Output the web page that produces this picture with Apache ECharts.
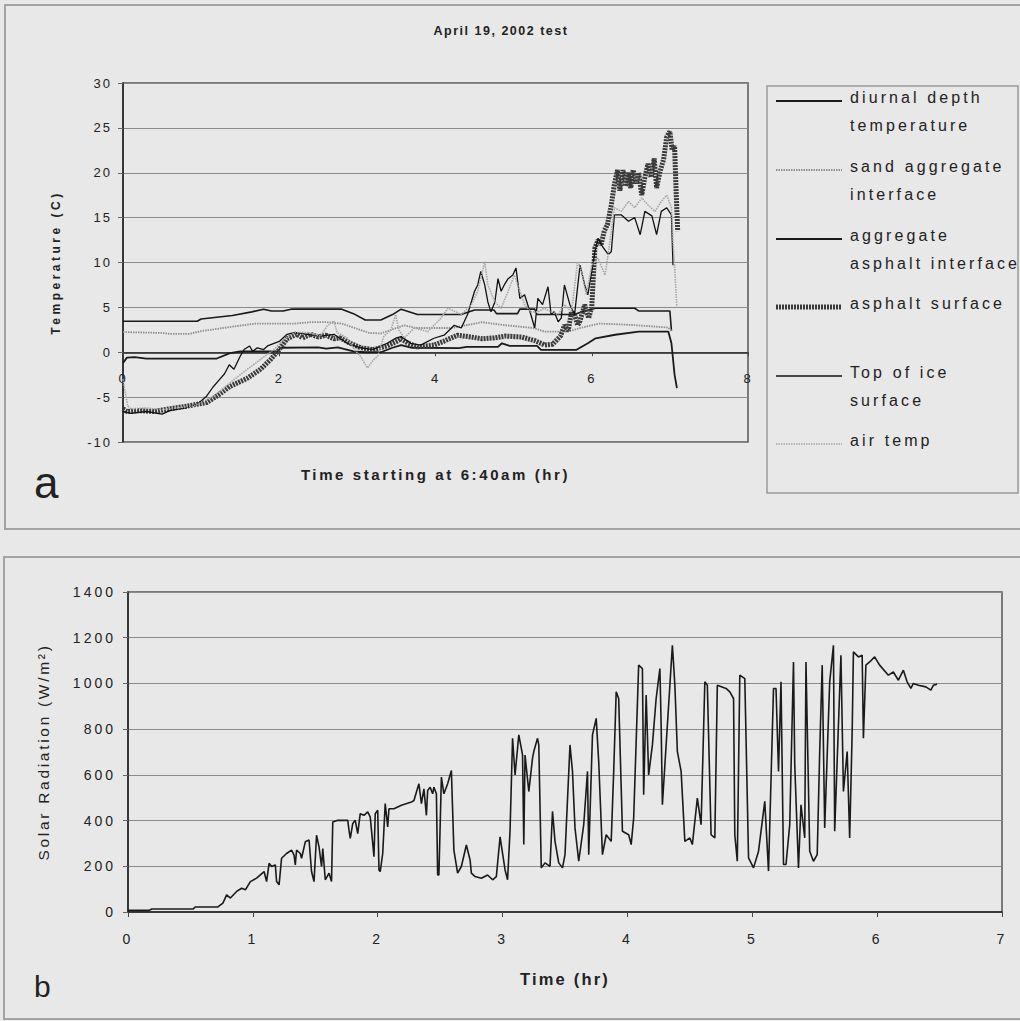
<!DOCTYPE html>
<html>
<head>
<meta charset="utf-8">
<title>April 19, 2002 test</title>
<script src="https://cdn.jsdelivr.net/npm/echarts@6/dist/echarts.min.js"></script>
<style>
  html, body { margin: 0; padding: 0; background: #e8e8e8; }
  #chart { width: 1020px; height: 1021px; }
  /* zrender has no letter spacing and the scanned figure is spaced out, so widen svg text by size */
  #chart svg text { letter-spacing: 2px; }
  #chart text[style*="12.5px"] { letter-spacing: 1.5px; }
  #chart text[style*="13px"] { letter-spacing: 2px; }
  #chart text[style*="12px"] { letter-spacing: 3.5px; }
  #chart text[style*="15px"] { letter-spacing: 2.6px; }
  #chart text[style*="16px"] { letter-spacing: 3.1px; }
  #chart text[style*="14px"] { letter-spacing: 3px; }
  #chart text[style*="15.5px"] { letter-spacing: 2.7px; }
  #chart text[style*="16.5px"] { letter-spacing: 2.2px; }
  #chart text[style*="44px"], #chart text[style*="30px"] { letter-spacing: 0; }
</style>
</head>
<body>
<div id="chart"></div>
<script>
// panel a: temperatures (hours since 6:40am, deg C)
const depthTime = [0, 0.95, 1.0, 1.4, 1.65, 1.8, 1.9, 2.05, 2.15, 2.8, 2.95, 3.1, 3.3, 3.45, 3.56, 3.7, 3.77, 4.33, 4.5, 4.75, 4.78, 5.05, 5.08, 5.27, 5.3, 5.78, 5.9, 6.05, 6.55, 6.6, 7.0, 7.02]
const depthTemp = [3.45, 3.45, 3.7, 4.1, 4.5, 4.8, 4.6, 4.6, 4.8, 4.8, 4.3, 3.6, 3.6, 4.2, 4.8, 4.4, 4.2, 4.2, 4.7, 4.7, 4.3, 4.3, 4.8, 4.8, 4.2, 4.2, 4.6, 4.9, 4.9, 4.6, 4.6, 2.4]

const sandTime = [0, 0.5, 0.6, 0.85, 1.0, 1.4, 1.7, 2.2, 2.4, 2.6, 2.8, 3.0, 3.15, 3.3, 3.5, 3.6, 3.75, 4.2, 4.6, 4.85, 5.25, 5.4, 5.7, 5.85, 6.1, 6.5, 6.98, 7.02]
const sandTemp = [2.25, 2.15, 2.05, 2.05, 2.35, 2.85, 3.2, 3.2, 3.35, 3.35, 3.2, 2.6, 2.15, 2.1, 2.7, 3.0, 2.7, 2.7, 3.35, 3.05, 2.7, 2.3, 2.3, 2.7, 3.2, 3.05, 2.75, 2.4]

const aggTime = [0, 0.05, 0.15, 0.3, 1.2, 1.37, 1.5, 1.98, 2.02, 2.5, 2.6, 2.75, 2.95, 3.1, 3.3, 3.45, 3.56, 3.7, 4.3, 4.4, 4.8, 4.85, 4.95, 5.3, 5.35, 5.8, 5.95, 6.05, 6.3, 6.6, 6.98, 7.02, 7.06, 7.09]
const aggTemp = [-1.2, -0.6, -0.55, -0.7, -0.7, -0.1, 0.1, 0.1, 0.5, 0.55, 0.4, 0.55, 0.1, 0, 0, 0.5, 0.8, 0.5, 0.45, 0.6, 0.6, 1.0, 0.7, 0.7, 0.26, 0.26, 1.0, 1.55, 1.95, 2.3, 2.3, 1.0, -2.5, -4.0]

const asphaltTime = [0, 0.05, 0.2, 0.4, 0.6, 0.82, 1.07, 1.2, 1.37, 1.59,
  1.76, 1.89, 2.0, 2.1, 2.22, 2.3, 2.4, 2.5, 2.6, 2.7,
  2.78, 2.91, 3.04, 3.2, 3.38, 3.5, 3.56, 3.65, 3.77, 3.98,
  4.1, 4.28, 4.45, 4.6, 4.75, 4.9, 5.1, 5.27, 5.4, 5.5,
  5.6, 5.65, 5.7, 5.74, 5.78, 5.82, 5.85, 5.91, 5.96, 6.0,
  6.04, 6.08, 6.12, 6.16, 6.2, 6.25, 6.29, 6.33, 6.36, 6.4,
  6.43, 6.47, 6.5, 6.53, 6.57, 6.6, 6.64, 6.68, 6.72, 6.76,
  6.8, 6.83, 6.87, 6.92, 6.96, 7.0, 7.03, 7.06, 7.08, 7.1]
const asphaltTemp = [-6.3, -6.6, -6.5, -6.6, -6.3, -6.0, -5.6, -4.9, -3.8, -2.9,
  -1.9, -0.8, 0.3, 1.5, 2.0, 1.6, 2.0, 1.7, 1.9, 1.5,
  1.6, 1.0, 0.5, 0.3, 0.7, 1.2, 1.5, 1.0, 0.6, 0.8,
  1.2, 1.9, 1.7, 1.5, 1.6, 1.8, 1.7, 1.3, 0.8, 0.9,
  1.8, 3.0, 2.4, 4.5, 4.2, 3.0, 3.5, 5.3, 3.8, 5.0,
  11.6, 12.5, 12.0, 13.5, 14.2, 16.4, 18.7, 20.3, 18.0, 20.3,
  18.5, 20.0, 18.3, 20.3, 18.8, 20.0, 17.5, 19.5, 21.0, 19.5,
  21.6, 18.3, 20.0, 21.5, 24.0, 24.6, 22.5, 23.0, 17.9, 13.5]

const iceTime = [0, 0.1, 0.3, 0.5, 0.6, 0.8, 0.95, 1.07, 1.15, 1.24,
  1.3, 1.36, 1.42, 1.5, 1.55, 1.62, 1.66, 1.72, 1.8, 1.85,
  2.0, 2.1, 2.2, 2.36, 2.53, 2.7, 2.87, 3.04, 3.2, 3.38,
  3.5, 3.56, 3.68, 3.81, 3.98, 4.11, 4.24, 4.33, 4.41, 4.5,
  4.54, 4.58, 4.63, 4.67, 4.71, 4.76, 4.8, 4.84, 4.88, 4.93,
  4.99, 5.03, 5.08, 5.14, 5.22, 5.27, 5.31, 5.37, 5.44, 5.48,
  5.52, 5.57, 5.61, 5.65, 5.72, 5.78, 5.85, 5.91, 5.95, 6.0,
  6.04, 6.08, 6.12, 6.21, 6.25, 6.29, 6.38, 6.47, 6.55, 6.62,
  6.68, 6.77, 6.83, 6.89, 6.96, 7.02, 7.04]
const iceTemp = [-6.6, -6.8, -6.6, -6.9, -6.5, -6.2, -5.8, -4.9, -3.9, -3.0,
  -2.4, -1.4, -1.9, -0.45, 0.3, 0.7, 0.1, 0.5, 0.3, 0.7,
  1.2, 2.0, 2.2, 2.0, 1.8, 2.0, 1.0, 0.5, 0.3, 1.0,
  1.6, 1.75, 1.0, 0.8, 1.56, 1.9, 3.0, 2.7, 4.2, 6.8,
  7.5, 9.0, 7.5, 5.6, 4.5, 5.6, 8.2, 6.8, 7.5, 8.2,
  8.6, 9.4, 6.0, 6.4, 4.2, 2.7, 6.0, 5.3, 7.3, 4.2,
  4.5, 3.4, 3.8, 7.5, 5.3, 4.2, 9.7, 7.5, 6.4, 9.0,
  11.2, 12.7, 12.0, 10.9, 11.2, 15.3, 15.3, 14.6, 15.0, 13.1,
  15.7, 15.2, 13.1, 15.7, 16.1, 15.3, 9.7]

const airTime = [0, 0.03, 0.06, 0.1, 0.3, 0.5, 0.7, 0.9, 1.0, 1.16,
  1.37, 1.59, 1.76, 1.93, 2.06, 2.19, 2.36, 2.53, 2.61, 2.7,
  2.74, 2.87, 2.96, 3.04, 3.13, 3.21, 3.26, 3.34, 3.43, 3.49,
  3.53, 3.6, 3.73, 3.9, 4.07, 4.16, 4.33, 4.46, 4.54, 4.63,
  4.67, 4.76, 4.84, 4.93, 5.01, 5.08, 5.14, 5.22, 5.31, 5.39,
  5.48, 5.57, 5.65, 5.74, 5.82, 5.87, 5.93, 6.0, 6.08, 6.17,
  6.21, 6.29, 6.38, 6.47, 6.55, 6.64, 6.72, 6.81, 6.89, 6.96,
  7.02, 7.04, 7.06, 7.09]
const airTemp = [-3.0, -4.5, -6.0, -6.3, -6.2, -6.4, -6.2, -6.0, -5.6, -4.9,
  -3.4, -1.9, -0.8, 0.3, 1.4, 2.2, 2.2, 1.8, 2.9, 3.5,
  2.2, 1.6, 0.3, -0.45, -1.75, -0.8, -0.45, 1.8, 2.5, 4.2,
  2.5, 1.6, 2.7, 2.3, 3.8, 4.9, 4.2, 5.3, 6.8, 10.1,
  7.5, 5.6, 4.9, 6.8, 8.6, 6.8, 5.3, 4.5, 4.5, 4.9,
  4.5, 4.2, 5.3, 4.5, 10.1, 9.0, 6.4, 9.7, 10.5, 8.6,
  10.9, 16.1, 15.7, 16.8, 16.1, 17.2, 16.4, 15.7, 16.8, 17.5,
  16.1, 12.3, 9.7, 4.9]

// panel b: solar radiation (hours, W/m2)
const solarTime = [0, 0.17, 0.19, 0.52, 0.54, 0.72, 0.76, 0.79, 0.82, 0.87,
  0.91, 0.94, 0.98, 1.03, 1.09, 1.11, 1.13, 1.15, 1.18, 1.19,
  1.21, 1.23, 1.27, 1.31, 1.33, 1.34, 1.35, 1.38, 1.39, 1.42,
  1.45, 1.47, 1.49, 1.51, 1.53, 1.55, 1.56, 1.58, 1.61, 1.63,
  1.64, 1.68, 1.76, 1.77, 1.78, 1.80, 1.82, 1.84, 1.86, 1.89,
  1.92, 1.94, 1.96, 1.97, 1.98, 2.00, 2.01, 2.02, 2.04, 2.06,
  2.08, 2.09, 2.13, 2.19, 2.27, 2.29, 2.33, 2.35, 2.37, 2.39,
  2.40, 2.42, 2.44, 2.45, 2.47, 2.48, 2.49, 2.51, 2.53, 2.56,
  2.59, 2.61, 2.64, 2.67, 2.71, 2.74, 2.75, 2.78, 2.83, 2.88,
  2.92, 2.95, 2.98, 3.00, 3.02, 3.04, 3.06, 3.08, 3.10, 3.13,
  3.16, 3.17, 3.18, 3.21, 3.24, 3.25, 3.28, 3.29, 3.31, 3.34,
  3.38, 3.40, 3.42, 3.45, 3.48, 3.50, 3.54, 3.56, 3.58, 3.61,
  3.65, 3.68, 3.69, 3.72, 3.75, 3.77, 3.80, 3.83, 3.87, 3.89,
  3.91, 3.93, 3.96, 4.01, 4.03, 4.05, 4.09, 4.12, 4.13, 4.15,
  4.17, 4.20, 4.23, 4.26, 4.27, 4.28, 4.31, 4.34, 4.36, 4.38,
  4.40, 4.43, 4.46, 4.50, 4.52, 4.56, 4.59, 4.62, 4.64, 4.67,
  4.70, 4.72, 4.79, 4.82, 4.85, 4.86, 4.88, 4.90, 4.94, 4.97,
  5.01, 5.05, 5.10, 5.13, 5.17, 5.19, 5.21, 5.23, 5.25, 5.27,
  5.30, 5.33, 5.34, 5.37, 5.39, 5.42, 5.43, 5.46, 5.49, 5.52,
  5.54, 5.56, 5.58, 5.62, 5.65, 5.66, 5.69, 5.71, 5.73, 5.76,
  5.78, 5.80, 5.81, 5.85, 5.88, 5.89, 5.91, 5.94, 5.98, 6.02,
  6.09, 6.13, 6.17, 6.21, 6.24, 6.27, 6.29, 6.33, 6.39, 6.43,
  6.45, 6.48]
const solarValue = [7, 7, 13, 13, 22, 22, 39, 75, 61, 90,
  104, 97, 133, 148, 177, 133, 213, 199, 206, 133,
  119, 235, 256, 271, 249, 206, 271, 256, 235, 307,
  315, 177, 133, 336, 285, 199, 278, 141, 170, 133,
  394, 401, 401, 358, 322, 387, 401, 343, 430, 423,
  438, 416, 300, 242, 430, 445, 184, 177, 256, 474,
  372, 452, 452, 467, 481, 488, 561, 474, 539, 423,
  532, 546, 517, 546, 517, 162, 162, 590, 517, 561,
  619, 271, 170, 199, 293, 227, 170, 155, 148, 162,
  141, 155, 329, 256, 184, 141, 358, 760, 600, 775,
  687, 295, 687, 527, 673, 702, 760, 731, 193, 215,
  200, 440, 309, 215, 193, 251, 731, 615, 368, 222,
  382, 615, 251, 775, 847, 658, 251, 338, 309, 615,
  963, 934, 353, 338, 295, 411, 1080, 1065, 513, 949,
  600, 731, 934, 1065, 818, 469, 731, 992, 1167, 992,
  702, 615, 309, 324, 295, 498, 382, 1007, 992, 338,
  324, 992, 978, 963, 934, 338, 222, 1036, 1021, 237,
  193, 266, 484, 179, 978, 978, 615, 1007, 208, 208,
  382, 1094, 644, 193, 469, 324, 1094, 266, 222, 251,
  702, 1080, 368, 1007, 1167, 353, 818, 1123, 527, 702,
  324, 789, 1138, 1116, 1123, 760, 1080, 1094, 1116, 1080,
  1036, 1050, 1014, 1058, 1007, 978, 1000, 992, 985, 971,
  992, 997]

const FONT = 'Liberation Sans'
const INK = '#222'

function pairs(xs, ys) {
  return xs.map((x, i) => [x, ys[i]])
}

// no thousands separator, the original shows 1400 not 1,400
function plain(v) {
  return String(v)
}

function legendEntry(y, text, lineStyle) {
  return [
    {
      type: 'line',
      silent: true,
      shape: { x1: 776, y1: y + 4, x2: 842, y2: y + 4 },
      style: Object.assign({ fill: null }, lineStyle)
    },
    {
      type: 'text',
      silent: true,
      x: 850,
      y: y - 14,
      style: {
        text: text,
        fontSize: 16,
        fontFamily: FONT,
        fill: INK,
        lineHeight: 28,
        align: 'left',
        verticalAlign: 'top',
        textAlign: 'left',
        textVerticalAlign: 'top'
      }
    }
  ]
}

const chart = echarts.init(document.getElementById('chart'), null, { renderer: 'svg' })

const option = {
  backgroundColor: '#e8e8e8',
  animation: false,
  title: {
    text: 'April 19, 2002 test',
    left: 501,
    top: 24,
    textAlign: 'center',
    padding: 0,
    textStyle: { fontSize: 12.5, fontWeight: 'bold', fontFamily: FONT, color: INK }
  },
  grid: [
    {
      left: 123, top: 83, width: 625, height: 359,
      show: true, borderColor: '#555', borderWidth: 1.5, backgroundColor: 'transparent',
      outerBoundsMode: 'none'
    },
    {
      left: 128, top: 592, width: 874, height: 320,
      show: true, borderColor: '#555', borderWidth: 1.5, backgroundColor: 'transparent',
      outerBoundsMode: 'none'
    }
  ],
  xAxis: [
    {
      // the time axis sits on the 0 C line, labels included
      type: 'value', gridIndex: 0, min: 0, max: 8, interval: 2,
      offset: -89.75,
      name: 'Time starting at 6:40am (hr)', nameLocation: 'middle', nameGap: 115,
      nameTextStyle: { fontSize: 15, fontWeight: 'bold', fontFamily: FONT, color: INK },
      axisLine: { onZero: false, lineStyle: { color: '#222', width: 1.5 } },
      axisTick: { show: true, length: 4, lineStyle: { color: '#444' } },
      axisLabel: { fontSize: 13, fontFamily: FONT, color: INK, margin: 19.5, formatter: plain },
      splitLine: { show: false }
    },
    {
      type: 'value', gridIndex: 1, min: 0, max: 7, interval: 1,
      name: 'Time (hr)', nameLocation: 'middle', nameGap: 58,
      nameTextStyle: { fontSize: 16.5, fontWeight: 'bold', fontFamily: FONT, color: INK },
      axisLine: { lineStyle: { color: '#222', width: 1.5 } },
      axisTick: { show: true, length: 5, lineStyle: { color: '#444' } },
      axisLabel: { fontSize: 14, fontFamily: FONT, color: INK, margin: 20, formatter: plain },
      splitLine: { show: false }
    }
  ],
  yAxis: [
    {
      type: 'value', gridIndex: 0, min: -10, max: 30, interval: 5,
      name: 'Temperature (C)', nameLocation: 'middle', nameGap: 61,
      nameTextStyle: { fontSize: 12, fontWeight: 'bold', fontFamily: FONT, color: INK },
      axisLine: { show: true, onZero: false, lineStyle: { color: '#222', width: 1.5 } },
      axisTick: { show: true, length: 5, lineStyle: { color: '#666' } },
      axisLabel: { fontSize: 13, fontFamily: FONT, color: INK, margin: 11, formatter: plain },
      splitLine: { show: true, lineStyle: { color: '#8a8a8a', width: 1 } }
    },
    {
      type: 'value', gridIndex: 1, min: 0, max: 1400, interval: 200,
      name: 'Solar Radiation (W/m²)', nameLocation: 'middle', nameGap: 77,
      nameTextStyle: { fontSize: 15.5, fontFamily: FONT, color: INK },
      axisLine: { show: true, lineStyle: { color: '#222', width: 1.5 } },
      axisTick: { show: true, length: 5, lineStyle: { color: '#666' } },
      axisLabel: { fontSize: 14, fontFamily: FONT, color: INK, margin: 12, formatter: plain },
      splitLine: { show: true, lineStyle: { color: '#8a8a8a', width: 1 } }
    }
  ],
  series: [
    {
      name: 'diurnal depth temperature', type: 'line', xAxisIndex: 0, yAxisIndex: 0,
      symbol: 'none', data: pairs(depthTime, depthTemp),
      lineStyle: { color: '#1a1a1a', width: 1.6 }
    },
    {
      name: 'sand aggregate interface', type: 'line', xAxisIndex: 0, yAxisIndex: 0,
      symbol: 'none', data: pairs(sandTime, sandTemp),
      lineStyle: { color: '#8f8f8f', width: 1.8, type: [1.5, 1] }
    },
    {
      name: 'aggregate asphalt interface', type: 'line', xAxisIndex: 0, yAxisIndex: 0,
      symbol: 'none', data: pairs(aggTime, aggTemp),
      lineStyle: { color: '#1a1a1a', width: 1.8 }
    },
    {
      name: 'asphalt surface', type: 'line', xAxisIndex: 0, yAxisIndex: 0,
      symbol: 'none', data: pairs(asphaltTime, asphaltTemp),
      lineStyle: { color: '#3a3a3a', width: 5, type: [2, 1] }
    },
    {
      name: 'Top of ice surface', type: 'line', xAxisIndex: 0, yAxisIndex: 0,
      symbol: 'none', data: pairs(iceTime, iceTemp),
      lineStyle: { color: '#111', width: 1.3 }
    },
    {
      name: 'air temp', type: 'line', xAxisIndex: 0, yAxisIndex: 0,
      symbol: 'none', data: pairs(airTime, airTemp),
      lineStyle: { color: '#a6a6a6', width: 1.6, type: [1.5, 1] }
    },
    {
      name: 'Solar Radiation', type: 'line', xAxisIndex: 1, yAxisIndex: 1,
      symbol: 'none', data: pairs(solarTime, solarValue),
      lineStyle: { color: '#1a1a1a', width: 1.6 }
    }
  ],
  graphic: [
    // panel frames
    { type: 'rect', silent: true, shape: { x: 5, y: 5, width: 1030, height: 524 }, style: { fill: null, stroke: '#a3a3a3', lineWidth: 2 } },
    { type: 'rect', silent: true, shape: { x: 4, y: 557, width: 1030, height: 462 }, style: { fill: null, stroke: '#a3a3a3', lineWidth: 2 } },
    // legend box
    { type: 'rect', silent: true, shape: { x: 767, y: 86, width: 251, height: 407 }, style: { fill: null, stroke: '#9a9a9a', lineWidth: 1.5 } },
    ...legendEntry(97, 'diurnal depth\ntemperature', { stroke: '#1a1a1a', lineWidth: 2 }),
    ...legendEntry(166, 'sand aggregate\ninterface', { stroke: '#8f8f8f', lineWidth: 2, lineDash: [1.5, 1] }),
    ...legendEntry(235, 'aggregate\nasphalt interface', { stroke: '#1a1a1a', lineWidth: 2 }),
    ...legendEntry(303, 'asphalt surface', { stroke: '#3a3a3a', lineWidth: 5, lineDash: [2, 1] }),
    ...legendEntry(372, 'Top of ice\nsurface', { stroke: '#111', lineWidth: 1.5 }),
    ...legendEntry(440, 'air temp', { stroke: '#a6a6a6', lineWidth: 1.6, lineDash: [1.5, 1] }),
    // panel letters
    {
      type: 'text', silent: true, x: 34, y: 482,
      style: { text: 'a', fontSize: 44, fontFamily: FONT, fill: INK, align: 'left', verticalAlign: 'middle', textAlign: 'left', textVerticalAlign: 'middle' }
    },
    {
      type: 'text', silent: true, x: 34, y: 986,
      style: { text: 'b', fontSize: 30, fontFamily: FONT, fill: INK, align: 'left', verticalAlign: 'middle', textAlign: 'left', textVerticalAlign: 'middle' }
    }
  ]
}

chart.setOption(option)
</script>
</body>
</html>
